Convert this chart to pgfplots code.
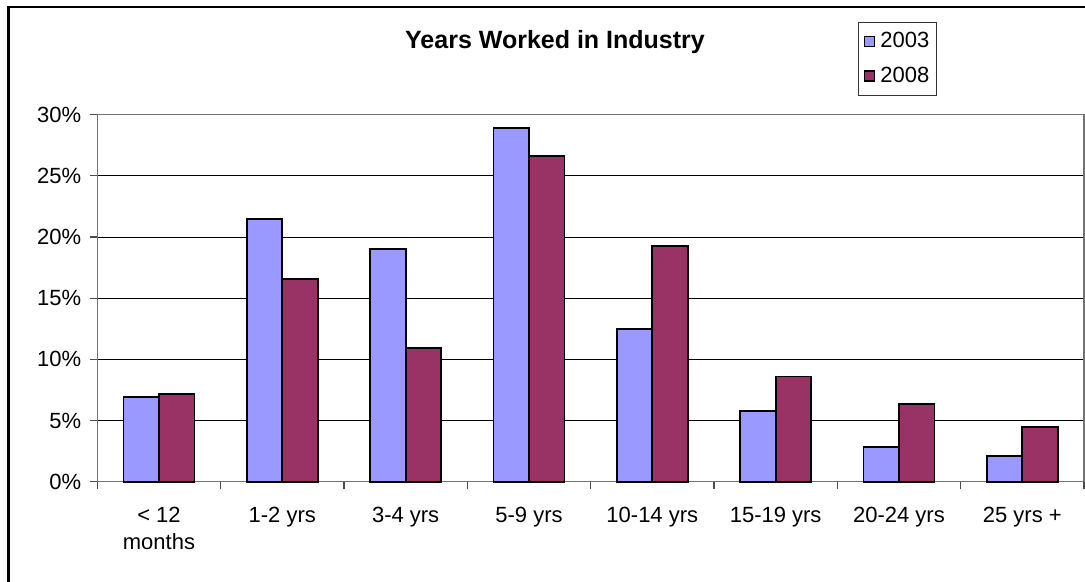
\documentclass[border=0pt]{standalone}
\usepackage{fontspec}
\setmainfont{Liberation Sans}
\usepackage{pgfplots}
\pgfplotsset{compat=1.18}
\definecolor{c03}{HTML}{9999FF}
\definecolor{c08}{HTML}{993366}
\begin{document}
\begin{tikzpicture}
\useasboundingbox (-48.65pt,-50.15pt) rectangle (493.85pt,240.85pt);
\draw[line width=1.1pt] (-44.4pt,-60pt) -- (-44.4pt,237.35pt) -- (520pt,237.35pt);
\begin{axis}[
  at={(0pt,0pt)}, anchor=south west,
  scale only axis, width=493.35pt, height=183.5pt,
  ybar=0pt, bar width=17.75pt,
  ymin=0, ymax=30, xmin=-0.5, xmax=7.5,
  ytick={0,5,10,15,20,25,30},
  yticklabels={0\%,5\%,10\%,15\%,20\%,25\%,30\%},
  xtick={-0.5,0.5,1.5,2.5,3.5,4.5,5.5,6.5,7.5},
  xticklabels={},
  extra x ticks={0,1,2,3,4,5,6,7},
  extra x tick labels={{< 12\\months},1-2 yrs,3-4 yrs,5-9 yrs,10-14 yrs,15-19 yrs,20-24 yrs,25 yrs +},
  extra x tick style={major tick length=0pt, grid=none,
    xticklabel style={font=\fontsize{11}{13.5}\selectfont, align=center, anchor=north, yshift=-9pt}},
  tick align=outside, tick pos=left,
  major tick length=3.5pt,
  tick style={black!70, line width=0.6pt},
  axis line style={black!55, line width=0.8pt},
  ymajorgrids, major grid style={black, line width=0.5pt},
  yticklabel style={font=\fontsize{11}{13.5}\selectfont, xshift=-1pt},
  legend style={at={(0.771,1.2526)}, anchor=north west, draw=black!80, line width=0.5pt,
    font=\fontsize{11}{13.5}\selectfont, row sep=4pt, inner xsep=1.5pt, inner ysep=3pt},
  legend cell align=left,
  legend image code/.code={\draw[#1, line width=0.6pt] (1pt,-2.5pt) rectangle (6pt,2.5pt);
     \path (0pt,0pt) (6.5pt,0pt);},
  clip=false,
]
\addplot[fill=c03, draw=black, line width=0.9pt] coordinates {(0,6.9) (1,21.5) (2,19.05) (3,28.9) (4,12.45) (5,5.8) (6,2.86) (7,2.13)};
\addplot[fill=c08, draw=black, line width=0.9pt] coordinates {(0,7.2) (1,16.6) (2,10.9) (3,26.6) (4,19.25) (5,8.6) (6,6.33) (7,4.45)};
\legend{2003,2008}
\end{axis}
\node[font=\bfseries\fontsize{12.5}{15}\selectfont] at (228.85pt,220pt) {Years Worked in Industry};
\end{tikzpicture}
\end{document}
